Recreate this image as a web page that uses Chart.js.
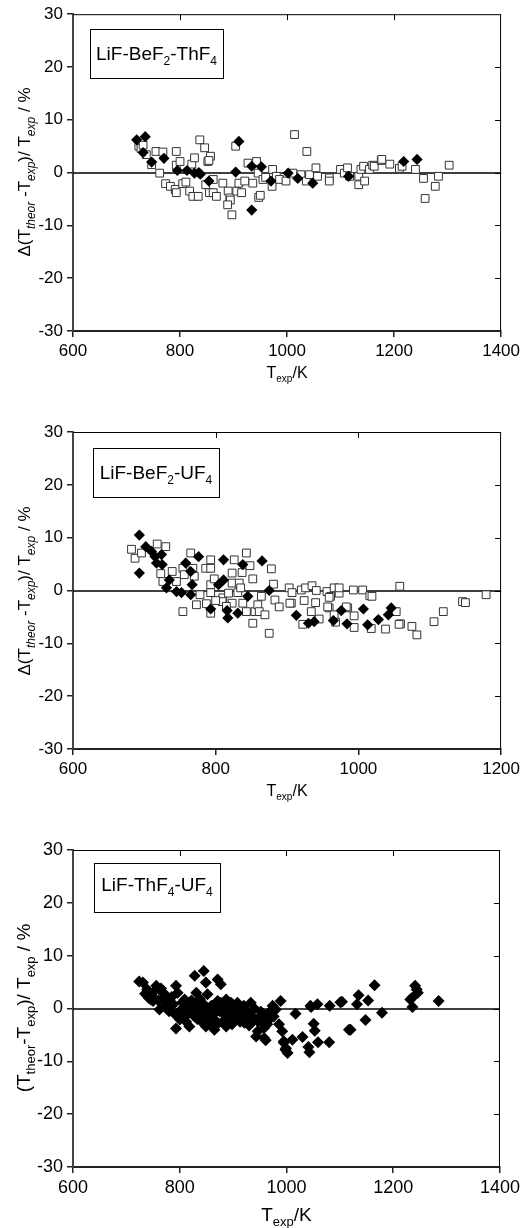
<!DOCTYPE html>
<html><head><meta charset="utf-8">
<script src="https://cdn.jsdelivr.net/npm/chart.js@4/dist/chart.umd.min.js"></script>
<style>
html,body{margin:0;padding:0;background:#fff;}
body{width:524px;height:1228px;position:relative;overflow:hidden;}
canvas{position:absolute;left:0;display:block;}
</style></head><body>
<canvas id="c1" width="524" height="400" style="top:0px"></canvas>
<canvas id="c2" width="524" height="410" style="top:400px"></canvas>
<canvas id="c3" width="524" height="408" style="top:820px"></canvas>
<script>
// ---------- DATA ----------
// Panel 1: LiF-BeF2-ThF4
const thDiaX = [719,735,731,747,770,795,813,827,835,838,854,904,910,934,952,970,1002,1020,1048,1115,1218,1243,934];
const thDiaY = [6.2,6.8,3.8,2.0,2.7,0.4,0.4,-0.1,0.0,-0.3,-1.6,0.1,5.9,1.2,1.1,-1.6,-0.1,-1.1,-2.0,-0.7,2.1,2.5,-7.1];
const thSqX = [723,727,731,737,747,755,762,768,773,782,791,793,793,793,800,805,811,818,822,827,824,834,837,846,852,857,854,848,855,862,862,868,880,890,893,894,889,897,904,906,910,915,921,927,936,943,946,947,950,955,960,973,972,980,986,998,1014,1011,1026,1036,1037,1042,1054,1057,1079,1079,1100,1107,1113,1117,1134,1134,1138,1143,1145,1154,1160,1163,1176,1177,1192,1210,1215,1240,1255,1258,1277,1283,1303];
const thSqY = [5.0,4.6,5.2,3.4,1.5,4.0,-0.1,3.9,-2.1,-2.6,-3.2,-3.8,4.0,1.4,2.1,-2.1,-1.8,-3.5,1.6,2.8,-4.5,-4.5,6.2,4.7,2.1,3.1,2.3,-2.3,-3.8,-1.3,-3.8,-4.5,-2.0,-3.5,-4.8,-5.2,-6.1,-8.0,5.0,-3.5,-2.0,-3.8,-1.6,1.8,-2.0,2.1,-0.1,-4.7,-4.3,-1.3,-0.9,0.6,-2.6,-0.7,-1.3,-1.6,7.2,-0.1,-0.4,-1.6,4.0,-0.4,0.9,-0.7,-1.0,-1.6,0.6,-0.1,0.9,-0.7,-0.7,-2.3,0.6,1.2,-1.6,0.6,1.4,1.2,2.3,2.5,1.6,0.8,1.2,0.6,-1.1,-4.9,-2.6,-0.7,1.4];

// Panel 2: LiF-BeF2-UF4
const uDiaX = [693,693,702,710,715,717,724,725,735,731,745,752,758,765,767,765,776,804,811,811,838,845,865,875,793,816,817,831,913,930,938,965,976,984,1007,1013,1028,1042,1046];
const uDiaY = [10.5,3.3,8.3,7.4,6.4,5.2,6.8,4.9,2.0,0.5,-0.2,-0.4,5.2,3.6,1.1,-0.8,6.4,1.1,2.0,5.8,4.9,-1.1,5.6,0.0,-3.5,-3.8,-5.2,-4.3,-4.7,-6.2,-5.9,-5.7,-3.8,-6.3,-3.5,-6.5,-5.5,-4.6,-3.3];
const uSqX = [682,687,696,718,730,723,726,739,745,754,756,765,768,770,778,786,793,793,793,793,798,810,823,823,826,831,833,835,837,843,848,852,864,878,881,883,903,907,920,926,935,941,956,961,966,973,973,993,1006,1016,1058,1146,1179,1150,1119,1106,1082,1075,1059,1038,1018,1019,994,994,985,959,959,966,945,940,924,934,922,906,754,773,787,793,809,823,838,843,852,855,859,861,869,875,889,904,957,968,983,1053,1057,800,815,818];
const uSqY = [7.8,6.1,7.1,8.8,8.3,3.2,1.7,3.6,1.7,4.2,3.0,7.1,4.2,2.7,-0.8,4.2,5.8,4.2,1.1,-0.4,2.2,-1.4,3.3,1.4,5.8,-0.4,1.4,0.5,3.4,7.1,4.7,2.2,-1.1,4.1,1.2,-1.8,0.5,-0.4,0.1,0.5,0.9,0.0,-0.2,-1.1,0.5,-0.5,0.5,0.1,0.1,-1.0,0.8,-2.1,-0.8,-2.3,-4.0,-5.9,-8.4,-6.8,-6.3,-7.3,-7.2,-1.1,-7.0,-4.8,-3.3,-1.3,-3.3,-4.6,-5.4,-2.3,-1.9,-4.0,-6.4,-2.4,-4.0,-2.7,-2.5,-4.3,-2.1,-2.4,-2.4,-4.0,-6.2,-4.0,-2.7,-4.0,-4.6,-8.1,-3.1,-2.4,-3.1,-6.0,-3.1,-4.0,-6.4,-1.9,-3.0,-0.5];

// Panel 3: LiF-ThF4-UF4
const tuX = [724,731,739,740,746,747,750,756,765,768,762,775,778,784,793,796,796,803,809,815,800,793,818,828,845,849,831,821,831,837,843,852,856,859,849,865,871,877,871,877,887,887,896,902,908,911,918,924,933,939,943,946,958,961,967,974,980,989,986,992,995,999,1002,952,1017,1045,1046,1058,1081,1101,1104,1132,1135,1153,1165,1179,1148,1120,1051,1053,1080,1059,1041,1043,1030,1011,995,998,843,887,921,955,958,961,1117,1232,1236,1241,1244,1246,1235,1285,790,805,812,825,833,840,848,855,862,866,870,875,880,884,890,893,898,905,913,917,928,930,936,950,964,970,976,860,845,838,818,805,785,772,760,735,742,752,770,780,788,798,808,814,822,828,835,842,851,858,868,874,882,890,897,903,910,920,926,940,947,956,968];
const tuY = [5.1,4.9,3.6,3.3,1.7,2.4,1.4,4.3,3.8,3.0,-0.2,2.4,1.1,0.5,4.3,3.0,-1.1,-0.2,1.7,1.1,-2.1,-3.8,-3.4,6.2,7.1,4.9,3.0,-0.2,0.5,-0.8,-1.8,2.7,-0.2,-1.8,-3.4,-4.0,5.5,4.6,1.4,1.1,1.7,-1.5,1.1,-1.5,1.1,0.1,-1.8,-2.1,1.1,-1.8,-5.3,-4.3,-5.6,-2.1,-0.8,0.5,-0.2,1.4,-3.0,-4.3,-6.2,-7.5,-8.4,-0.6,-1.0,0.5,0.3,0.8,0.5,1.2,1.3,0.8,2.5,1.5,4.4,-0.8,-2.2,-4.0,-2.9,-4.2,-6.4,-6.4,-7.3,-8.3,-5.4,-5.9,-6.5,-7.8,-2.7,-3.4,-2.7,-2.7,-3.7,-6.0,-4.0,1.7,0.3,4.3,3.6,3.0,2.0,1.4,-1.0,-1.5,-2.5,-1.2,-2.0,-1.0,-0.5,-2.8,-1.0,-2.2,-3.0,-0.5,-2.5,-1.0,-0.3,-2.2,-3.0,-0.5,-2.5,-0.2,-0.8,-3.2,-2.5,-1.5,-3.0,-1.8,-1.5,0.5,0.8,1.8,0.8,1.2,2.2,0.5,1.5,2.8,2.0,3.2,1.8,-0.5,0.8,-0.8,0.2,-1.2,1.5,-1.5,1.2,0.3,-1.2,0.4,-0.6,0.2,0.4,-0.9,0.0,-0.8,-1.0,0.5,-0.6,0.0,-2.5,-1.0,-1.2];

const yTicks = [-30,-20,-10,0,10,20,30];
const xTicks1 = [600,800,1000,1200,1400];
const xTicks2 = [600,800,1000,1200];
const xTicks3 = [600,800,1000,1200,1400];

const FONT = '"Liberation Sans", Arial, sans-serif';
function pts(xs, ys){ return xs.map((x,i)=>({x:x, y:ys[i]})); }

// rich text helpers
function N(t,s){ return {t:t, font: s+'px '+FONT, dy:0}; }
function S(t,s,it,dy){ return {t:t, font:(it?'italic ':'')+s+'px '+FONT, dy:dy}; }
function richW(ctx, parts){ let w=0; parts.forEach(p=>{ctx.font=p.font; w+=ctx.measureText(p.t).width;}); return w; }
function drawRich(ctx, parts, x, y){ parts.forEach(p=>{ ctx.font=p.font; ctx.fillText(p.t, x, y+p.dy); x+=ctx.measureText(p.t).width; }); }

const frame = {
  id:'frame',
  beforeDatasetsDraw(chart){
    const {ctx, chartArea:a, scales} = chart;
    const y0 = Math.round(scales.y.getPixelForValue(0));
    ctx.save();
    ctx.strokeStyle='#000'; ctx.lineWidth=1.3;
    ctx.beginPath(); ctx.moveTo(a.left,y0); ctx.lineTo(a.right,y0); ctx.stroke();
    ctx.restore();
  },
  afterDraw(chart, args, o){
    const {ctx, chartArea:a, scales} = chart;
    const x = scales.x, y = scales.y;
    ctx.save();
    ctx.strokeStyle='#000'; ctx.lineWidth=1;
    ctx.beginPath();
    ctx.moveTo(a.left, a.top+0.5); ctx.lineTo(a.right, a.top+0.5);
    ctx.moveTo(a.right-0.5, a.top); ctx.lineTo(a.right-0.5, a.bottom);
    x.ticks.forEach(t=>{ const px=Math.round(x.getPixelForValue(t.value))+0.5; if(px>a.left+2 && px<a.right-2){ ctx.moveTo(px,a.top); ctx.lineTo(px,a.top+6);} });
    y.ticks.forEach(t=>{ const py=Math.round(y.getPixelForValue(t.value))+0.5; if(py>a.top+2 && py<a.bottom-2){ ctx.moveTo(a.right,py); ctx.lineTo(a.right-6,py);} });
    ctx.stroke();
    // label box
    const b=o.box;
    ctx.lineWidth=1; ctx.strokeStyle='#000';
    ctx.strokeRect(b[0]+0.5,b[1]+0.5,b[2]-b[0],b[3]-b[1]);
    ctx.fillStyle='#000'; ctx.textBaseline='alphabetic';
    const lw = richW(ctx,o.label);
    drawRich(ctx, o.label, (b[0]+b[2])/2 - lw/2, o.labelBase);
    // x title
    const xw = richW(ctx,o.xTitle);
    drawRich(ctx, o.xTitle, (a.left+a.right)/2 - xw/2, o.xBase);
    // y title
    const yw = richW(ctx,o.yTitle);
    ctx.translate(o.yX, o.yC);
    ctx.rotate(-Math.PI/2);
    drawRich(ctx, o.yTitle, -yw/2, 0);
    ctx.restore();
  }
};

function makeChart(id, datasets, xmax, xTicks, padTop, xH, tickSize, fo){
  return new Chart(document.getElementById(id), {
    type:'scatter',
    data:{datasets:datasets},
    options:{
      responsive:false, animation:false, events:[],
      layout:{padding:{left:0,right:22,top:padTop,bottom:0}},
      plugins:{legend:{display:false}, tooltip:{enabled:false}, frame:fo},
      scales:{
        x:{type:'linear', min:600, max:xmax,
           afterBuildTicks:(ax)=>{ ax.ticks = xTicks.map(v=>({value:v})); },
           afterFit:(ax)=>{ ax.height = xH; },
           border:{display:true, color:'#222', width:2},
           grid:{display:true, drawOnChartArea:false, drawTicks:true, tickLength:6, color:'#222', lineWidth:1.5},
           ticks:{color:'#000', font:{family:FONT, size:tickSize}, padding:4, maxRotation:0, autoSkip:false, callback:(v)=>String(v)}},
        y:{type:'linear', min:-30, max:30,
           afterBuildTicks:(ax)=>{ ax.ticks = yTicks.map(v=>({value:v})); },
           afterFit:(ax)=>{ ax.width = 73; },
           border:{display:true, color:'#444', width:2},
           grid:{display:true, drawOnChartArea:false, drawTicks:true, tickLength:6, color:'#222', lineWidth:1.5},
           ticks:{color:'#000', font:{family:FONT, size:tickSize}, padding:4, autoSkip:false, callback:(v)=>String(v)}}
      }
    },
    plugins:[frame]
  });
}

const diaStyle = {pointStyle:'rectRot', pointRadius:5.6, backgroundColor:'#000', borderColor:'#000', borderWidth:0, showLine:false};
const sqStyle = {pointStyle:'rect', pointRadius:5.5, backgroundColor:'#fff', borderColor:'#333', borderWidth:1, showLine:false};

const ytA = [N('\u0394(T',17), S('theor',12,true,5), N(' -T',17), S('exp',12,true,5), N(')/ T',17), S('exp',12,true,5), N(' / %',17)];
const xtA = [N('T',16), S('exp',10,false,4), N('/K',16)];

makeChart('c1', [
  Object.assign({data:pts(thDiaX,thDiaY)}, diaStyle),
  Object.assign({data:pts(thSqX,thSqY)}, sqStyle)
], 1400, xTicks1, 14, 69, 17, {
  box:[90,29,223,78], labelBase:60,
  label:[N('LiF-BeF',19), S('2',12,false,5), N('-ThF',19), S('4',12,false,5)],
  xTitle:xtA, xBase:378, yTitle:ytA, yX:30, yC:172
});

makeChart('c2', [
  Object.assign({data:pts(uDiaX,uDiaY)}, diaStyle),
  Object.assign({data:pts(uSqX,uSqY)}, sqStyle)
], 1200, xTicks2, 32, 61, 17, {
  box:[93,48,219,97], labelBase:79,
  label:[N('LiF-BeF',19), S('2',12,false,5), N('-UF',19), S('4',12,false,5)],
  xTitle:xtA, xBase:396, yTitle:ytA, yX:30, yC:191
});

makeChart('c3', [
  Object.assign({data:pts(tuX,tuY)}, diaStyle, {pointRadius:6})
], 1400, xTicks3, 30, 61, 18, {
  box:[94,43,220,92], labelBase:71,
  label:[N('LiF-ThF',19), S('4',12,false,5), N('-UF',19), S('4',12,false,5)],
  xTitle:[N('T',19), S('exp',13,false,5), N('/K',19)], xBase:401,
  yTitle:[N('(T',19), S('theor',13,false,5), N('-T',19), S('exp',13,false,5), N(')/ T',19), S('exp',13,false,5), N(' / %',19)], yX:30, yC:188
});
</script>
</body></html>
